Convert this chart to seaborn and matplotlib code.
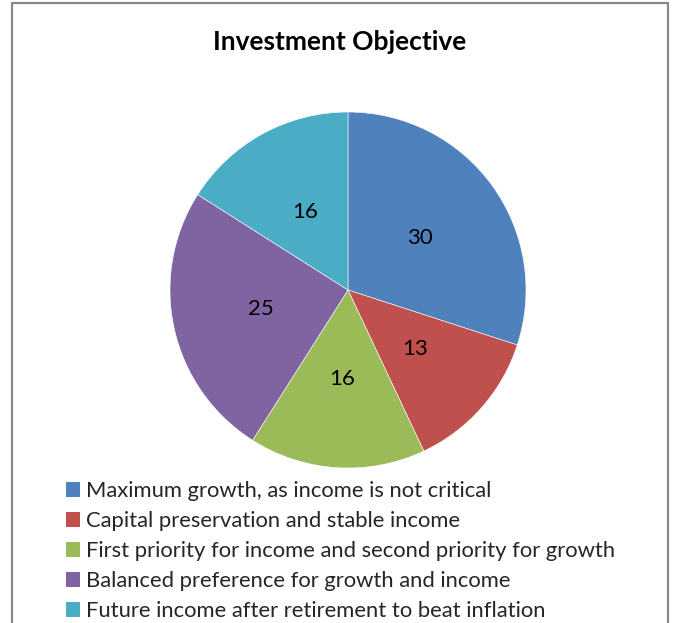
import matplotlib
matplotlib.use("Agg")
import matplotlib.pyplot as plt
import matplotlib.patches as mpatches
import seaborn as sns

sns.set_theme(style="white")
plt.rcParams["font.family"] = ["Lato", "DejaVu Sans"]

title = "Investment Objective"
categories = [
    "Maximum growth, as income is not critical",
    "Capital preservation and stable income",
    "First priority for income and second priority for growth",
    "Balanced preference for growth and income",
    "Future income after retirement to beat inflation",
]
values = [30, 13, 16, 25, 16]
colors = ["#4F81BD", "#C0504D", "#9BBB59", "#8064A2", "#4BACC6"]

W, H = 673, 623
fig = plt.figure(figsize=(W / 100, H / 100), dpi=100)
fig.patch.set_facecolor("white")

# chart frame (open at the bottom)
frame_color = "#898989"
fig.add_artist(plt.Line2D([12 / W, 12 / W], [0, 1 - 3 / H], color=frame_color, lw=1.6))
fig.add_artist(plt.Line2D([12 / W, 668 / W], [1 - 3 / H, 1 - 3 / H], color=frame_color, lw=1.6))
fig.add_artist(plt.Line2D([668 / W, 668 / W], [0, 1 - 3 / H], color=frame_color, lw=1.6))

# pie
cx, cy, r = 348, 290, 178
ax = fig.add_axes([(cx - r) / W, (H - cy - r) / H, 2 * r / W, 2 * r / H])
wedges, texts = ax.pie(
    values,
    colors=colors,
    labels=[str(v) for v in values],
    labeldistance=0.5,
    startangle=90,
    counterclock=False,
    radius=1,
    wedgeprops=dict(edgecolor="white", linewidth=0.4),
    textprops=dict(fontsize=16, color="black"),
)
for t in texts:
    t.set_ha("center")
    t.set_va("center")
ax.set_xlim(-1, 1)
ax.set_ylim(-1, 1)
ax.set_aspect("equal")
ax.axis("off")

fig.text(340 / W, 1 - 42 / H, title, ha="center", va="center",
         fontsize=19, fontweight="bold", color="black")

# legend
handles = [mpatches.Patch(facecolor=c, edgecolor="none") for c in colors]
leg = fig.legend(
    handles, categories,
    loc="upper left",
    bbox_to_anchor=(66 / W, 1 - 481 / H),
    frameon=False,
    fontsize=15.8,
    handlelength=0.64,
    handleheight=0.64,
    handletextpad=0.28,
    labelspacing=0.46,
    borderpad=0,
    borderaxespad=0,
)

fig.savefig("out.png", dpi=100, facecolor="white")
